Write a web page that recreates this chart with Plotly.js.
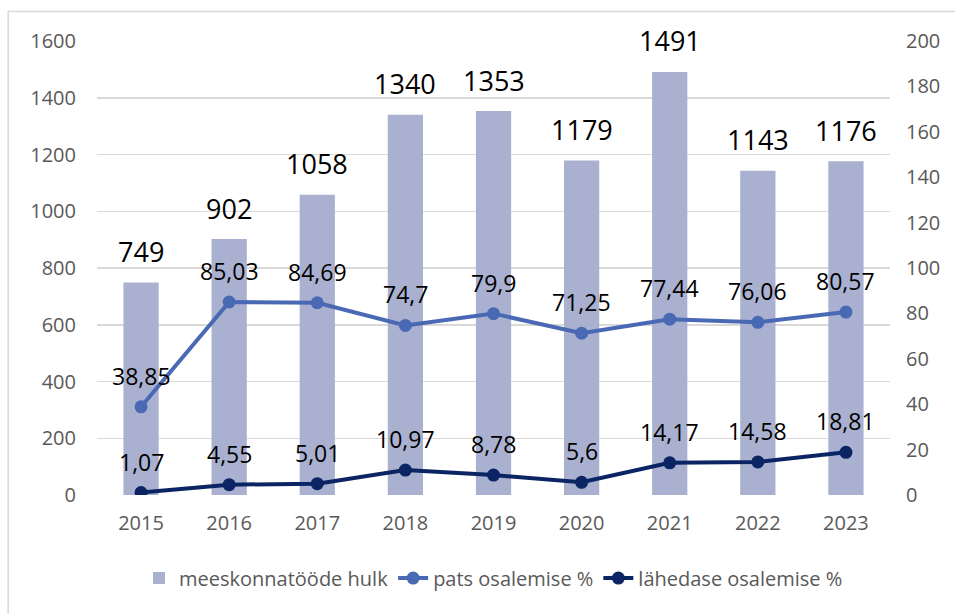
<!DOCTYPE html>
<html>
<head>
<meta charset="utf-8">
<script src="https://cdn.plot.ly/plotly-3.0.1.min.js"></script>
<style>
html,body{margin:0;padding:0;background:#fff;}
#chart{width:955px;height:614px;}
</style>
</head>
<body>
<div id="chart"></div>
<script>
const years = ['2015','2016','2017','2018','2019','2020','2021','2022','2023'];
const meeskonnatood = [749, 902, 1058, 1340, 1353, 1179, 1491, 1143, 1176];
const patsOsalemine = [38.85, 85.03, 84.69, 74.7, 79.9, 71.25, 77.44, 76.06, 80.57];
const lahedaseOsalemine = [1.07, 4.55, 5.01, 10.97, 8.78, 5.6, 14.17, 14.58, 18.81];

const fmt = v => String(v).replace('.', ',');
const FONT = '"Open Sans", sans-serif';
const GREY = '#595959';

const traces = [
  {
    type: 'bar', name: 'meeskonnatööde hulk', x: years, y: meeskonnatood,
    marker: {color: '#a9b0d0'}, yaxis: 'y'
  },
  {
    type: 'scatter', mode: 'lines+markers', name: 'pats osalemise %',
    x: years, y: patsOsalemine, yaxis: 'y2',
    line: {color: '#4a69b4', width: 4}, marker: {color: '#4a69b4', size: 13}
  },
  {
    type: 'scatter', mode: 'lines+markers', name: 'lähedase osalemise %',
    x: years, y: lahedaseOsalemine, yaxis: 'y2',
    line: {color: '#0b2463', width: 4}, marker: {color: '#0b2463', size: 13}
  }
];

const annotations = [];
years.forEach((yr, i) => {
  annotations.push({x: i, y: meeskonnatood[i], xref: 'x', yref: 'y', text: String(meeskonnatood[i]),
    showarrow: false, yanchor: 'middle', yshift: 31, font: {size: 27, color: '#000', family: FONT}});
  annotations.push({x: i, y: patsOsalemine[i], xref: 'x', yref: 'y2', text: fmt(patsOsalemine[i]),
    showarrow: false, yanchor: 'middle', yshift: 31, font: {size: 23, color: '#000', family: FONT}});
  annotations.push({x: i, y: lahedaseOsalemine[i], xref: 'x', yref: 'y2', text: fmt(lahedaseOsalemine[i]),
    showarrow: false, yanchor: 'middle', yshift: 31, font: {size: 23, color: '#000', family: FONT}});
});

const layout = {
  width: 955, height: 614,
  margin: {l: 97, r: 65, t: 41, b: 119},
  paper_bgcolor: '#fff', plot_bgcolor: '#fff',
  font: {family: FONT, color: GREY, size: 20},
  bargap: 0.6,
  showlegend: true,
  legend: {orientation: 'h', x: 0.5, xanchor: 'center', y: -0.183, yanchor: 'middle',
           font: {size: 20, color: GREY}, traceorder: 'normal'},
  xaxis: {type: 'category', range: [-0.5, 8.5], autorange: false, showgrid: false, showline: false, ticks: '',
          tickfont: {size: 20, color: GREY}, ticklabelstandoff: 14},
  yaxis: {range: [0, 1600], dtick: 200, showgrid: true, gridcolor: '#d9d9d9', gridwidth: 1.5,
          zeroline: false, showline: false, ticks: '', tickfont: {size: 20, color: GREY}, ticklabelstandoff: 20},
  yaxis2: {range: [0, 200], dtick: 20, overlaying: 'y', side: 'right', showgrid: false,
           zeroline: false, showline: false, ticks: '', tickfont: {size: 20, color: GREY}, ticklabelstandoff: 15},
  annotations: annotations,
  shapes: [{type: 'rect', xref: 'paper', yref: 'paper', x0: -0.112, x1: 1.2, y0: -0.4, y1: 1.065,
            line: {color: '#d9d9d9', width: 1.5}, fillcolor: 'rgba(0,0,0,0)'}]
};

Plotly.newPlot('chart', traces, layout, {displayModeBar: false, staticPlot: true});
</script>
</body>
</html>
